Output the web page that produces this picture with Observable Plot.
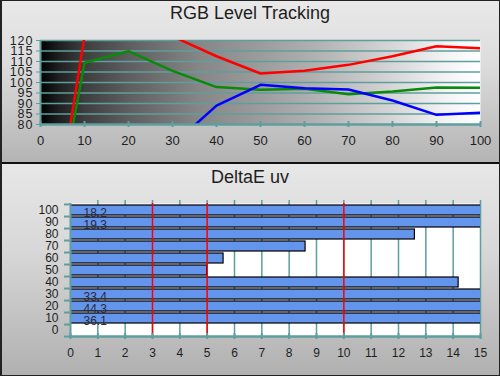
<!DOCTYPE html>
<html><head><meta charset="utf-8">
<script src="https://cdn.jsdelivr.net/npm/d3@7"></script>
<script src="https://cdn.jsdelivr.net/npm/@observablehq/plot@0.6"></script>
<style>
body{margin:0;background:#fff;}
#chart{position:relative;width:500px;height:376px;overflow:hidden;font-family:"Liberation Sans",Arial,sans-serif;}
.panel{position:absolute;left:0;width:500px;}
#top{top:0;height:162px;background:linear-gradient(#e9e9e9,#dcdcdc 40%,#b4b4b4);}
#bot{top:164px;height:212px;background:linear-gradient(#e7e7e7,#d8d8d8 40%,#b0b0b0);}
#sep{position:absolute;left:0;top:162px;width:500px;height:2px;background:#111;}
#border{position:absolute;left:0;top:0;right:0;bottom:0;border:1px solid #222;border-left-width:2px;pointer-events:none;}
.title{position:absolute;left:0;width:500px;text-align:center;font-size:18px;line-height:18px;color:#1e1e1e;}
.panel svg{position:absolute;left:0;top:0;}
#top g[aria-label="y-axis tick label"] text{letter-spacing:1px;}
</style></head>
<body>
<div id="chart">
 <div class="panel" id="top"></div>
 <div class="panel" id="bot"></div>
 <div id="sep"></div>
 <div class="title" style="top:4px">RGB Level Tracking</div>
 <div class="title" style="top:168px">DeltaE uv</div>
 <div id="border"></div>
</div>
<script>
// ---- data ----
const stimulus = [0, 10, 20, 30, 40, 50, 60, 70, 80, 90, 100];
const redLevel = [-9, 122, 135, 122, 112.5, 104.3, 105.6, 108.4, 112.5, 117.3, 116.3];
const greenLevel = [-4, 109.4, 114.9, 105.5, 97.8, 96.5, 97.0, 94.4, 95.7, 97.6, 97.5];
const blueLevel = [null, null, null, 70.2, 89.0, 98.9, 97.3, 96.7, 91.4, 84.6, 85.6];
const rgbYTicks = [80, 85, 90, 95, 100, 105, 110, 115, 120];

const deltaCategories = [100, 90, 80, 70, 60, 50, 40, 30, 20, 10, 0];
const deltaValues = [18.2, 19.3, 12.6, 8.6, 5.6, 5.0, 14.2, 33.4, 44.3, 36.1, 0];
const deltaXTicks = [0, 1, 2, 3, 4, 5, 6, 7, 8, 9, 10, 11, 12, 13, 14, 15];
const refLines = [3, 5, 10];

// ---- styles ----
const teal = "#5f9e9e";
const font = "Liberation Sans, Arial, sans-serif";

// ---- top chart ----
const topPlot = Plot.plot({
  width: 500, height: 162,
  marginLeft: 40, marginRight: 20, marginTop: 40, marginBottom: 38,
  style: {background: "transparent", fontFamily: font, color: "#1e1e1e", overflow: "visible"},
  x: {domain: [0, 100], label: null},
  y: {domain: [80, 120], label: null},
  marks: [
    Plot.frame({fill: "url(#rgbGrad)", stroke: null}),
    Plot.ruleY(rgbYTicks.slice(1), {stroke: teal, strokeWidth: 1.3}),
    Plot.line(stimulus, {x: d => d, y: (d, i) => greenLevel[i], stroke: "#0a8a0a", strokeWidth: 2.5, clip: true}),
    Plot.line(stimulus, {x: d => d, y: (d, i) => redLevel[i], stroke: "#ff0000", strokeWidth: 2.5, clip: true}),
    Plot.line(stimulus, {x: d => d, y: (d, i) => blueLevel[i], stroke: "#0000ff", strokeWidth: 2.5, clip: true}),
    Plot.ruleX([0], {stroke: teal, strokeWidth: 2}),
    Plot.ruleY([80], {stroke: teal, strokeWidth: 2.5}),
    Plot.axisY(rgbYTicks, {tickSize: 4, tickPadding: 3, stroke: teal, fontSize: 12.5, label: null}),
    Plot.axisX(stimulus, {tickSize: 6, dy: -3, tickFormat: () => "", stroke: teal, strokeWidth: 2, label: null}),
    Plot.axisX(stimulus, {tickSize: 0, tickPadding: 11, fontSize: 13, label: null})
  ]
});
const defs = d3.select(topPlot).insert("defs", ":first-child");
const grad = defs.append("linearGradient").attr("id", "rgbGrad");
[[0, "#000"], [0.04, "#1e1e1e"], [0.1, "#3e3e3e"], [0.2, "#5e5e5e"], [0.36, "#868686"],
 [0.5, "#9c9c9c"], [0.62, "#b0b0b0"], [0.8, "#d6d6d6"], [0.92, "#f3f3f3"], [1, "#fff"]]
  .forEach(([o, c]) => grad.append("stop").attr("offset", o).attr("stop-color", c));
document.getElementById("top").appendChild(topPlot);

// ---- bottom chart ----
const deltaTable = deltaCategories.map((c, i) => ({level: c, dE: deltaValues[i]}));
const step = (212 - 39 - 40) / deltaCategories.length;
const botPlot = Plot.plot({
  width: 500, height: 212,
  marginLeft: 70, marginRight: 20, marginTop: 39, marginBottom: 40,
  style: {background: "transparent", fontFamily: font, color: "#1e1e1e", overflow: "visible"},
  x: {domain: [0, 15], label: null},
  y: {domain: deltaCategories, padding: 0, label: null},
  marks: [
    Plot.frame({fill: "white", stroke: null}),
    Plot.ruleX(deltaXTicks.slice(1), {stroke: teal, strokeWidth: 1.5, insetTop: -3}),
    Plot.barX(deltaTable, {filter: d => d.dE > 0, x: "dE", y: "level", fill: "#6495ed", stroke: "#000", strokeWidth: 1.2, insetTop: 1, insetBottom: 1, clip: true}),
    Plot.text(deltaTable, {filter: d => d.dE > 15, y: "level", frameAnchor: "left", text: d => d.dE.toFixed(1), textAnchor: "start", dx: 13, dy: 3, fontSize: 12, fill: "#2a2a38"}),
    Plot.ruleX(refLines, {stroke: "#ff0000", strokeWidth: 1.5}),
    Plot.ruleX([0], {stroke: teal, strokeWidth: 2}),
    Plot.frame({anchor: "bottom", stroke: teal, strokeWidth: 2.5}),
    Plot.axisY(deltaCategories, {tickSize: 6, dy: step / 2, tickFormat: () => "", stroke: teal, strokeWidth: 2, label: null}),
    Plot.axisY([deltaCategories[0]], {tickSize: 6, dy: -step / 2, tickFormat: () => "", stroke: teal, strokeWidth: 2, label: null}),
    Plot.axisY(deltaCategories, {tickSize: 0, tickPadding: 12, fontSize: 12, label: null}),
    Plot.axisX(deltaXTicks, {tickSize: 6, dy: -3, tickFormat: () => "", stroke: teal, strokeWidth: 2, label: null}),
    Plot.axisX(deltaXTicks, {tickSize: 0, tickPadding: 12, fontSize: 12, label: null})
  ]
});
document.getElementById("bot").appendChild(botPlot);
</script>
</body></html>
